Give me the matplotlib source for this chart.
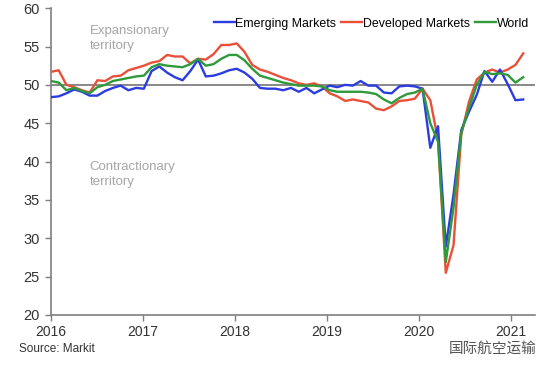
import matplotlib.pyplot as plt
import numpy as np

# monthly PMI readings, Jan 2016 .. Feb 2021
emerging = [48.4, 48.5, 48.9, 49.4, 49.1, 48.6, 48.6, 49.2, 49.6, 49.9, 49.3, 49.6,
            49.5, 51.8, 52.4, 51.6, 51.0, 50.6, 51.8, 53.3, 51.1, 51.2, 51.5, 51.9,
            52.1, 51.6, 50.8, 49.6, 49.5, 49.5, 49.3, 49.6, 49.1, 49.6, 48.9, 49.4,
            49.9, 49.7, 50.0, 49.9, 50.5, 49.9, 49.9, 49.0, 48.9, 49.8, 49.9, 49.8,
            49.5, 41.8, 44.6, 28.9, 35.7, 44.1, 46.5, 48.7, 51.8, 50.4, 52.0, 50.1,
            48.0, 48.1]
developed = [51.7, 51.9, 50.0, 49.7, 49.3, 49.0, 50.6, 50.5, 51.1, 51.2, 51.9, 52.2,
             52.5, 52.9, 53.1, 53.9, 53.7, 53.7, 52.8, 53.4, 53.3, 54.0, 55.2, 55.2,
             55.4, 54.3, 52.6, 52.0, 51.7, 51.3, 50.9, 50.6, 50.2, 50.0, 50.2, 49.8,
             48.9, 48.5, 47.9, 48.1, 47.9, 47.7, 46.9, 46.7, 47.2, 47.9, 48.0, 48.2,
             49.5, 48.0, 42.8, 25.5, 29.1, 43.5, 47.8, 50.7, 51.6, 52.0, 51.6, 52.0,
             52.6, 54.1]
world = [50.5, 50.3, 49.3, 49.6, 49.2, 48.9, 49.7, 50.0, 50.5, 50.7, 50.9, 51.1,
         51.2, 52.3, 52.7, 52.5, 52.4, 52.3, 52.7, 53.4, 52.5, 52.7, 53.4, 53.9,
         53.9, 53.2, 52.1, 51.2, 50.9, 50.6, 50.3, 50.1, 49.9, 49.9, 49.9, 49.8,
         49.3, 49.1, 49.1, 49.1, 49.1, 49.0, 48.8, 48.1, 47.6, 48.3, 48.8, 49.0,
         49.5, 45.0, 42.6, 26.9, 34.0, 43.8, 47.0, 50.0, 51.7, 51.4, 51.5, 51.3,
         50.3, 51.0]
years = [2016, 2017, 2018, 2019, 2020, 2021]

# points are spaced a little wider than the year ticks in the source
step = 5.13 / (len(world) - 1)
x = 2016 + np.arange(len(world)) * step

plt.rcParams['font.family'] = ['Liberation Sans', 'Noto Sans CJK SC', 'DejaVu Sans']

fig = plt.figure(figsize=(5.54, 3.71), dpi=100)
ax = fig.add_axes([0.092, 0.151, 0.874, 0.827])

ax.axhline(50, color="#7f7f7f", lw=1.3, zorder=1)
ax.plot(x, emerging, color="#2b3ce0", lw=1.7, label="Emerging Markets", zorder=3)
ax.plot(x, developed, color="#e8503a", lw=1.7, label="Developed Markets", zorder=2)
ax.plot(x, world, color="#2f9a3a", lw=1.7, label="World", zorder=4)

ax.set_xlim(2016, 2021.26)
ax.set_ylim(20, 60)
ax.set_xticks(years)
ax.set_yticks(range(20, 61, 5))
for s in ["top", "right"]:
    ax.spines[s].set_visible(False)
for s in ["left", "bottom"]:
    ax.spines[s].set_color("#7f7f7f")
    ax.spines[s].set_linewidth(1.2)
ax.tick_params(colors="#7f7f7f", length=4, width=1.0, direction="out")
ax.tick_params(axis="y", labelsize=10.5, labelcolor="#333333", pad=4)
ax.tick_params(axis="x", labelsize=10, labelcolor="#333333", pad=3)

ax.text(2016.42, 56.0, "Expansionary\nterritory", color="#a6a6a6", fontsize=9.5,
        va="center", linespacing=1.3)
ax.text(2016.42, 38.3, "Contractionary\nterritory", color="#a6a6a6", fontsize=9.5,
        va="center", linespacing=1.3)

ax.legend(loc="upper right", bbox_to_anchor=(1.01, 1.005), ncol=3, frameon=False,
          fontsize=8.9, handlelength=1.7, handletextpad=0.05, columnspacing=0.4)

fig.text(0.034, 0.05, "Source: Markit", fontsize=8.5, color="#333333")
fig.text(0.968, 0.048, "国际航空运输", fontsize=10.5, color="#555555", ha="right")

fig.savefig("out.png", dpi=100)
